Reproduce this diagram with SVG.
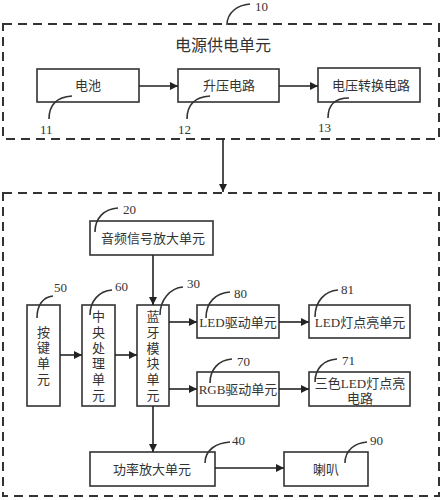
<svg xmlns="http://www.w3.org/2000/svg" width="445" height="500" viewBox="0 0 445 500">
<defs>
<marker id="ah" viewBox="0 0 10 10" refX="10" refY="5" markerWidth="8" markerHeight="8" markerUnits="userSpaceOnUse" orient="auto"><path d="M0,0 L10,5 L0,10 z" fill="#222"/></marker>
<style>
.box{fill:#fff;stroke:#333;stroke-width:1.6}
.dash{fill:none;stroke:#333;stroke-width:2;stroke-dasharray:9,6}
.t{font-family:"Liberation Serif","Noto Sans CJK SC",serif;font-size:13px;fill:#333;text-anchor:middle}
.title{font-size:16px}
.n{font-family:"Liberation Serif",serif;font-size:13px;fill:#333}
.ld{fill:none;stroke:#333;stroke-width:1.6}
.c{fill:none;stroke:#222;stroke-width:1.6;marker-end:url(#ah)}
</style>
</defs>
<rect width="445" height="500" fill="#fff"/>
<g id="power-unit">
<rect class="dash" x="3" y="24" width="436" height="115"/>
<text class="t title" x="223" y="51">电源供电单元</text>
<path class="ld" d="M227,25 C227,12 238,5 250,4"/><text class="n" x="255" y="11">10</text>
</g>
<g id="audio-unit-group">
<rect class="dash" x="3" y="193" width="436" height="303"/>
</g>
<g id="n11"><rect class="box" x="37" y="69" width="102" height="33"/><text class="t" x="88" y="90">电池</text>
<path class="ld" d="M49,119 C49,104 58,97 72,96"/><text class="n" x="40" y="134">11</text></g>
<g id="n12"><rect class="box" x="178" y="69" width="101" height="33"/><text class="t" x="229" y="90">升压电路</text>
<path class="ld" d="M187,119 C187,104 196,97 210,96"/><text class="n" x="178" y="134">12</text></g>
<g id="n13"><rect class="box" x="318" y="68" width="102" height="34"/><text class="t" x="371" y="90">电压转换电路</text>
<path class="ld" d="M328,118 C328,104 336,98 349,98"/><text class="n" x="318" y="132">13</text></g>
<g id="n20"><rect class="box" x="90" y="221" width="123" height="34"/><text class="t" x="153" y="243">音频信号放大单元</text>
<path class="ld" d="M95,232 C95,218 104,209 118,208"/><text class="n" x="123" y="214">20</text></g>
<g id="n50"><rect class="box" x="27" y="305" width="33" height="101"/>
<text class="t" x="43.500" y="337">按</text><text class="t" x="43.500" y="352">键</text><text class="t" x="43.500" y="368">单</text><text class="t" x="43.500" y="384">元</text>
<path class="ld" d="M37,318 C37,305 43,297 53,296"/><text class="n" x="54" y="292">50</text></g>
<g id="n60"><rect class="box" x="82" y="305" width="33" height="101"/>
<text class="t" x="98.500" y="321">中</text><text class="t" x="98.500" y="337">央</text><text class="t" x="98.500" y="353">处</text><text class="t" x="98.500" y="368">理</text><text class="t" x="98.500" y="384">单</text><text class="t" x="98.500" y="400">元</text>
<path class="ld" d="M90,315 C90,301 99,291 112,290"/><text class="n" x="115" y="291">60</text></g>
<g id="n30"><rect class="box" x="137" y="305" width="32" height="101"/>
<text class="t" x="153" y="321">蓝</text><text class="t" x="153" y="337">牙</text><text class="t" x="153" y="353">模</text><text class="t" x="153" y="368">块</text><text class="t" x="153" y="384">单</text><text class="t" x="153" y="400">元</text>
<path class="ld" d="M160,315 C160,300 170,288 183,287"/><text class="n" x="187" y="288">30</text></g>
<g id="n80"><rect class="box" x="197" y="305" width="82" height="33"/><text class="t" x="238" y="327">LED驱动单元</text>
<path class="ld" d="M206,318 C206,302 216,293 230,292"/><text class="n" x="234" y="298">80</text></g>
<g id="n81"><rect class="box" x="309" y="305" width="101" height="33"/><text class="t" x="360" y="327">LED灯点亮单元</text>
<path class="ld" d="M315,317 C315,301 325,291 338,290"/><text class="n" x="341" y="294">81</text></g>
<g id="n70"><rect class="box" x="197" y="372" width="82" height="34"/><text class="t" x="238" y="394">RGB驱动单元</text>
<path class="ld" d="M210,383 C210,369 219,360 232,359"/><text class="n" x="237" y="366">70</text></g>
<g id="n71"><rect class="box" x="309" y="372" width="101" height="34"/><text class="t" x="360" y="388">三色LED灯点亮</text><text class="t" x="360" y="403">电路</text>
<path class="ld" d="M315,382 C315,368 324,360 337,359"/><text class="n" x="342" y="365">71</text></g>
<g id="n40"><rect class="box" x="90" y="452" width="125" height="34"/><text class="t" x="152" y="474">功率放大单元</text>
<path class="ld" d="M205,463 C205,450 216,443 230,442"/><text class="n" x="232" y="445">40</text></g>
<g id="n90"><rect class="box" x="284" y="452" width="84" height="34"/><text class="t" x="326" y="474">喇叭</text>
<path class="ld" d="M345,463 C345,450 355,443 367,442"/><text class="n" x="370" y="445">90</text></g>
<g id="connectors">
<path class="c" d="M139,86 H178"/>
<path class="c" d="M279,86 H318"/>
<path class="c" d="M223,139 V192"/>
<path class="c" d="M153,255 V305"/>
<path class="c" d="M60,355 H82"/>
<path class="c" d="M115,355 H137"/>
<path class="c" d="M169,322 H197"/>
<path class="c" d="M279,322 H309"/>
<path class="c" d="M169,389 H197"/>
<path class="c" d="M279,389 H309"/>
<path class="c" d="M153,406 V452"/>
<path class="c" d="M215,468 H284"/>
</g>
</svg>
